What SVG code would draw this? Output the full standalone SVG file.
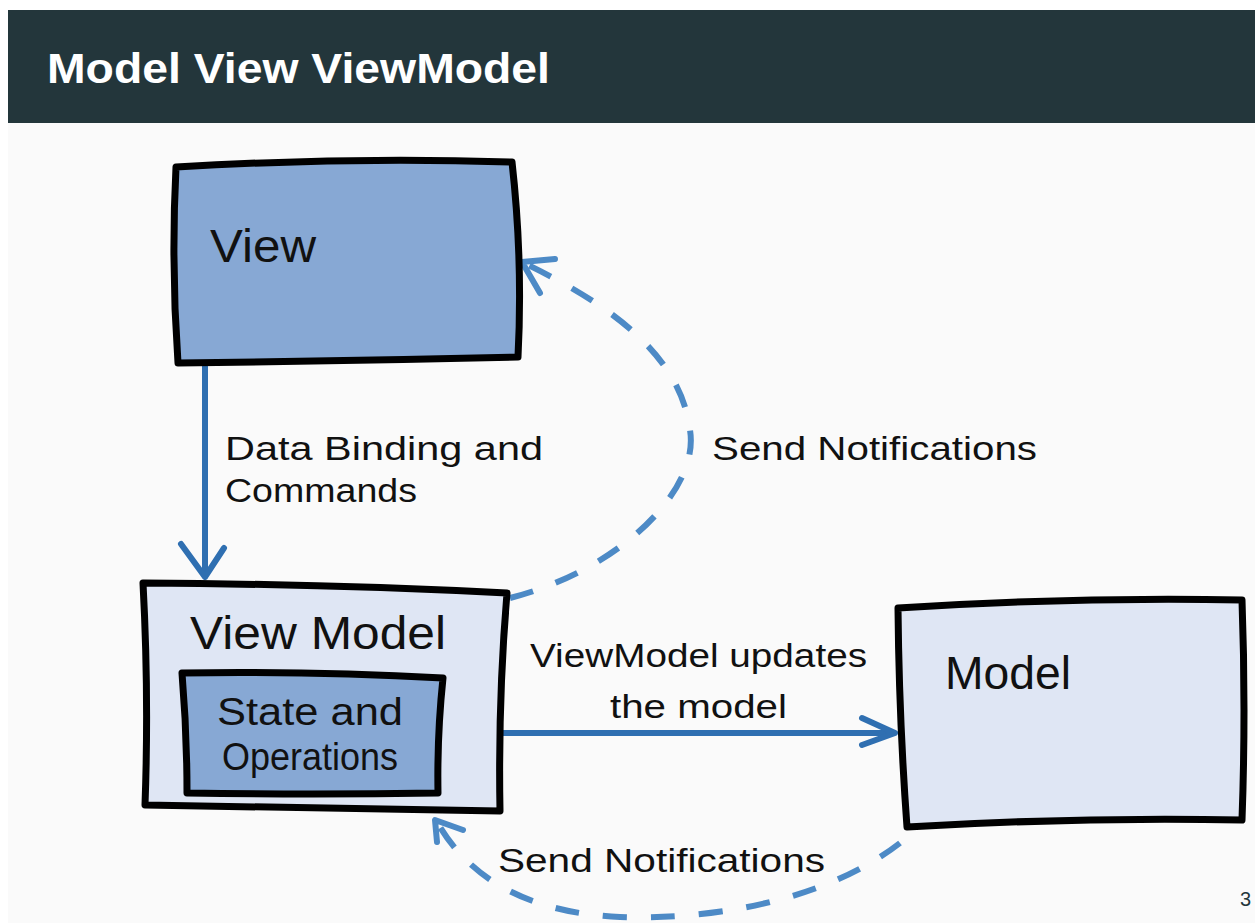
<svg xmlns="http://www.w3.org/2000/svg" width="1255" height="923" viewBox="0 0 1255 923">
<defs>
<style>
.box{stroke:#000;stroke-width:7;stroke-linejoin:round}
.hand{font-family:"Liberation Sans","DejaVu Sans",sans-serif;fill:#111}
.solid{fill:none;stroke:#2f6fb1;stroke-width:6;stroke-linecap:round;stroke-linejoin:round}
.dash{fill:none;stroke:#4d8ac6;stroke-width:6;stroke-dasharray:24 24}
.head{fill:none;stroke:#4d8ac6;stroke-width:6;stroke-linecap:round;stroke-linejoin:round}
</style>
</defs>
<rect x="0" y="0" width="1255" height="923" fill="#ffffff"/>
<rect x="8" y="123" width="1247" height="800" fill="#fafafa"/>
<rect x="8" y="10" width="1247" height="113" fill="#23363b"/>
<text x="47" y="83" font-family="Liberation Sans, Arial, sans-serif" font-weight="bold" font-size="42" fill="#ffffff" textLength="503" lengthAdjust="spacingAndGlyphs">Model View ViewModel</text>
<text x="1240" y="906" font-family="Liberation Sans, Arial, sans-serif" font-size="20" fill="#23363b">3</text>

<g id="connectors">
<path class="solid" d="M205,366 L205,576"/>
<path class="solid" d="M181,544 L205,577 L224,548"/>
<path class="solid" d="M501,733 L893,733"/>
<path class="solid" d="M862,718 L895,733 L862,745"/>
<path class="dash" d="M510,598 C620,570 700,490 690,430 C680,350 600,300 524,263"/>
<path class="head" d="M555,259 L522,262 L540,293"/>
<path class="dash" d="M900,843 C820,905 700,920 620,917 C530,913 470,880 437,822"/>
<path class="head" d="M463,830 L435,820 L437,842"/>
</g>

<g id="view">
<path class="box" fill="#87a8d4" d="M176,167 Q345,157 512,162 Q523,260 518,357 Q350,361 178,363 Q171,265 176,167 Z"/>
<text class="hand" x="210" y="262" font-size="46" textLength="106" lengthAdjust="spacingAndGlyphs">View</text>
</g>

<g id="viewmodel">
<path class="box" fill="#dfe6f4" d="M143,583 Q325,584 507,593 Q498,700 500,811 Q320,808 145,805 Q149,695 143,583 Z"/>
<text class="hand" x="190" y="649" font-size="46" textLength="256" lengthAdjust="spacingAndGlyphs">View Model</text>
<g id="state">
<path class="box" stroke-width="6" fill="#87a8d4" d="M182,673 Q312,671 443,678 Q437,735 438,793 Q312,795 187,793 Q187,733 182,673 Z"/>
<text class="hand" x="217" y="725" font-size="38" textLength="186" lengthAdjust="spacingAndGlyphs">State and</text>
<text class="hand" x="222" y="770" font-size="38" textLength="176" lengthAdjust="spacingAndGlyphs">Operations</text>
</g>
</g>

<g id="model">
<path class="box" fill="#dfe6f4" d="M898,608 Q1070,597 1242,600 Q1246,710 1242,820 Q1075,817 907,827 Q899,718 898,608 Z"/>
<text class="hand" x="945" y="689" font-size="46" textLength="126" lengthAdjust="spacingAndGlyphs">Model</text>
</g>

<g id="labels">
<text class="hand" x="225" y="460" font-size="34" textLength="318" lengthAdjust="spacingAndGlyphs">Data Binding and</text>
<text class="hand" x="225" y="502" font-size="34" textLength="192" lengthAdjust="spacingAndGlyphs">Commands</text>
<text class="hand" x="712" y="460" font-size="34" textLength="325" lengthAdjust="spacingAndGlyphs">Send Notifications</text>
<text class="hand" x="530" y="667" font-size="34" textLength="337" lengthAdjust="spacingAndGlyphs">ViewModel updates</text>
<text class="hand" x="610" y="718" font-size="34" textLength="177" lengthAdjust="spacingAndGlyphs">the model</text>
<text class="hand" x="498" y="872" font-size="34" textLength="327" lengthAdjust="spacingAndGlyphs">Send Notifications</text>
</g>
</svg>
